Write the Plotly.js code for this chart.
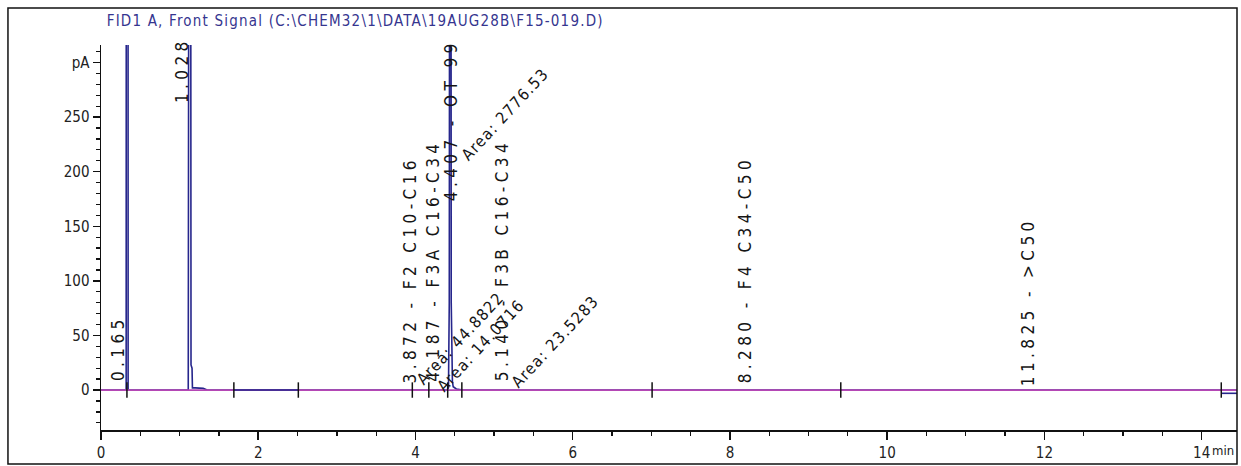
<!DOCTYPE html>
<html>
<head>
<meta charset="utf-8">
<script src="https://cdn.plot.ly/plotly-3.0.1.min.js"></script>
<style>
  html, body { margin: 0; padding: 0; background: #fff; }
  #chart { width: 1241px; height: 466px; }
</style>
</head>
<body>
<div id="chart"></div>
<script>
// ---------------- data ----------------
const chartTitle = 'FID1 A, Front Signal (C:\\CHEM32\\1\\DATA\\19AUG28B\\F15-019.D)';

// detector signal (min, pA)
const signalTime = [0, 0.32, 0.335, 0.345, 0.36, 1.11, 1.132, 1.138, 1.145, 1.158, 1.163, 1.20, 1.30, 1.35, 4.40, 4.42, 4.43, 4.445, 4.455, 4.47, 4.48, 4.52, 4.60, 14.45];
const signalPA   = [0, 0,    5000,  0,     0,    0,    1500,  24,    23,    20,    2,     2,    1.5,  0,    0,    2,    80,   1400,  80,    8,    3,    1,    0,    0];

// magenta zero line
const zeroLineTime = [0, 14.45];
const zeroLinePA   = [0, 0];

// integration baseline segments
const intBaseTime = [1.69, 2.51, null, 14.25, 14.45];
const intBasePA   = [0,    0,    null, -3,    -3];

// integration event marks
const eventTime = [0.33, 1.69, 2.51, 3.96, 4.17, 4.41, 4.59, 7.01, 9.41, 14.25];

// vertical peak labels
const peakLabelText = ['0.165', '1.028', '3.872 - F2 C10-C16', '4.187 - F3A C16-C34', '4.407 - OT 99', '5.140 - F3B C16-C34', '8.280 - F4 C34-C50', '11.825 - >C50'];
const peakLabelTime = [0.216, 1.03, 3.93, 4.22, 4.45, 5.11, 8.19, 11.79];
const peakLabelPA   = [6.4, 261, 4.6, 5.5, 171, 6, 4.6, 2];

// diagonal area labels
const areaText = ['Area: 2776.53', 'Area: 44.8822', 'Area: 14.0716', 'Area: 23.5283'];
const areaTime = [5.14, 4.57, 4.83, 5.78];
const areaPA   = [252, 47, 41, 44];

// axis ticks
const yTickVals = [0, 50, 100, 150, 200, 250, 300];
const yTickText = ['0', '50', '100', '150', '200', '250', 'pA'];
const xTickVals = [0, 2, 4, 6, 8, 10, 12, 14];
const xTickText = ['0', '2', '4', '6', '8', '10', '12', '14'];

// ---------------- drawing ----------------
const FONT = '"Liberation Sans Narrow", "DejaVu Sans Condensed", "Liberation Sans", sans-serif';
const esc = s => s.replace(/&/g, '&amp;').replace(/</g, '&lt;').replace(/>/g, '&gt;');

const traces = [
  { x: signalTime, y: signalPA, type: 'scatter', mode: 'lines',
    line: { color: '#26268c', width: 1.6 }, hoverinfo: 'skip' },
  { x: zeroLineTime, y: zeroLinePA, type: 'scatter', mode: 'lines',
    line: { color: '#b548b5', width: 1.8 }, hoverinfo: 'skip' },
  { x: intBaseTime, y: intBasePA, type: 'scatter', mode: 'lines',
    line: { color: '#26268c', width: 1.6 }, connectgaps: false, hoverinfo: 'skip' },
  { x: eventTime, y: eventTime.map(() => 0), type: 'scatter', mode: 'markers',
    marker: { symbol: 'line-ns-open', size: 11, color: '#111', line: { width: 1.5, color: '#111' } },
    hoverinfo: 'skip' }
];

const annotations = [];
peakLabelText.forEach((t, i) => {
  annotations.push({
    x: peakLabelTime[i], y: peakLabelPA[i], xref: 'x', yref: 'y',
    text: '<span style="letter-spacing:4.4px">' + esc(t) + '</span>',
    showarrow: false, textangle: -90, xanchor: 'center', yanchor: 'bottom',
    font: { family: FONT, size: 17, color: '#151515' }
  });
});
areaText.forEach((t, i) => {
  annotations.push({
    x: areaTime[i], y: areaPA[i], xref: 'x', yref: 'y',
    text: '<span style="letter-spacing:1.3px">' + esc(t) + '</span>',
    showarrow: false, textangle: -47, xanchor: 'center', yanchor: 'middle',
    font: { family: FONT, size: 16, color: '#151515' }
  });
});
// axis unit
annotations.push({
  x: 1.0, y: 0, xref: 'paper', yref: 'paper', yshift: -20, xshift: -27,
  text: 'min', showarrow: false, xanchor: 'left', yanchor: 'middle',
  font: { family: FONT, size: 13, color: '#222' }
});

const layout = {
  width: 1241, height: 466,
  margin: { l: 101, r: 4, t: 45, b: 36, pad: 0 },
  paper_bgcolor: '#ffffff', plot_bgcolor: '#ffffff',
  showlegend: false,
  title: {
    text: '<span style="letter-spacing:1.2px">' + esc(chartTitle) + '</span>',
    x: 0.005, xref: 'paper', xanchor: 'left',
    y: 0.955, yref: 'container', yanchor: 'middle',
    font: { family: FONT, size: 15, color: '#35358f' }
  },
  xaxis: {
    range: [0, 14.45], showgrid: false, zeroline: false,
    showline: true, linecolor: '#111', linewidth: 1.5,
    tickmode: 'array', tickvals: xTickVals, ticktext: xTickText,
    ticks: 'outside', ticklen: 8, tickwidth: 1.5, tickcolor: '#111',
    minor: { tickmode: 'linear', tick0: 0, dtick: 0.5, ticks: 'outside', ticklen: 4, tickwidth: 1.3, tickcolor: '#111' },
    tickfont: { family: FONT, size: 15, color: '#222' }
  },
  yaxis: {
    range: [-36.6, 316], showgrid: false, zeroline: false,
    showline: true, linecolor: '#111', linewidth: 1.5,
    tickmode: 'array', tickvals: yTickVals, ticktext: yTickText,
    ticks: 'outside', ticklen: 7, tickwidth: 1.5, tickcolor: '#111',
    minor: { tickmode: 'linear', tick0: 0, dtick: 10, ticks: 'outside', ticklen: 4, tickwidth: 1.3, tickcolor: '#111' },
    tickfont: { family: FONT, size: 15, color: '#222' }
  },
  shapes: [{
    type: 'rect', xref: 'paper', yref: 'paper',
    x0: -0.0819, x1: 1.0, y0: -0.0883, y1: 1.096,
    line: { color: '#111', width: 1.5 }, fillcolor: 'rgba(0,0,0,0)'
  }],
  annotations: annotations
};

Plotly.newPlot('chart', traces, layout, { displayModeBar: false, staticPlot: true });
</script>
</body>
</html>
